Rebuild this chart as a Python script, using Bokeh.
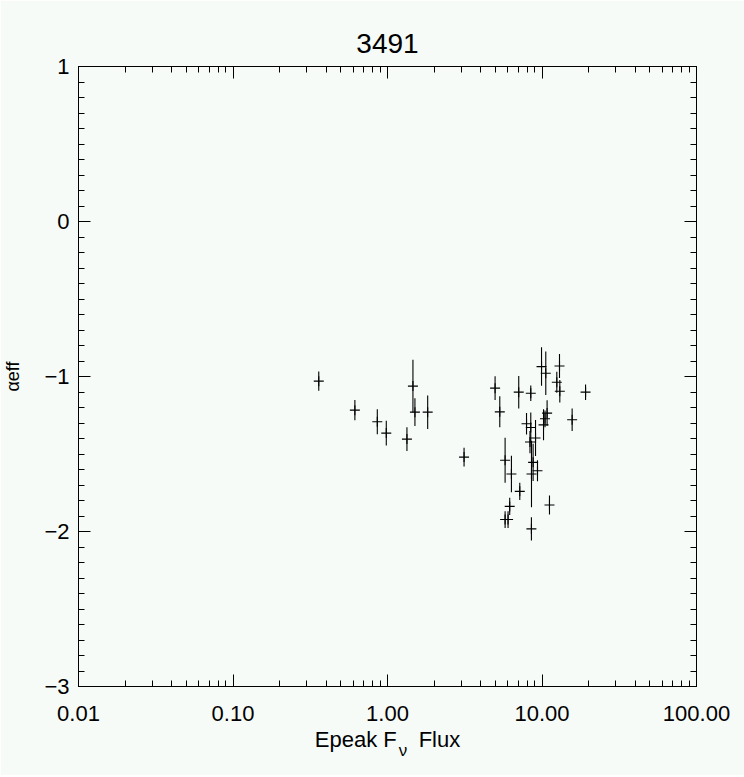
import numpy as np
from bokeh.plotting import figure
from bokeh.models import (Range1d, FixedTicker, LogAxis, LinearAxis,
                          PrintfTickFormatter, ColumnDataSource)
from bokeh.embed import file_html
from bokeh.resources import INLINE

# ---- data ----
epeak_flux = [0.359, 0.615, 0.859, 0.982, 1.336, 1.461, 1.505, 1.82, 3.13,
              4.97, 5.33, 5.77, 5.77, 6.03, 6.18, 6.34, 7.07, 7.18, 7.94,
              8.36, 8.46, 8.46, 8.54, 8.55, 8.76, 9.08, 9.35, 9.93, 10.23,
              10.46, 10.58, 10.79, 11.18, 12.47, 12.98, 13.04, 15.67, 19.14]
alpha_eff = [-1.030, -1.217, -1.292, -1.365, -1.404, -1.062, -1.230, -1.230, -1.520,
             -1.075, -1.228, -1.540, -1.923, -1.923, -1.838, -1.629, -1.101, -1.741, -1.305,
             -1.423, -1.108, -1.329, -1.983, -1.629, -1.554, -1.397, -1.608, -0.936, -1.312,
             -1.273, -0.979, -1.236, -1.829, -1.037, -0.932, -1.095, -1.279, -1.101]
alpha_err = [0.062, 0.066, 0.080, 0.080, 0.076, 0.170, 0.090, 0.108, 0.060,
             0.077, 0.100, 0.145, 0.054, 0.054, 0.055, 0.117, 0.105, 0.056, 0.069,
             0.072, 0.050, 0.097, 0.075, 0.215, 0.120, 0.116, 0.067, 0.124, 0.100,
             0.054, 0.140, 0.082, 0.062, 0.068, 0.077, 0.073, 0.073, 0.050]

title_text = "3491"
x_title = "Epeak F\u2002\u2002Flux"   # gap left for the subscript nu
x_title_sub = "\u03bd"
y_title = "\u03b1eff"
x_tick_values = [0.01, 0.1, 1.0, 10.0, 100.0]
y_tick_values = [-3, -2, -1, 0, 1]
y_tick_labels = ["\u22123", "\u22122", "\u22121", "0", "1"]

FONT = "Liberation Sans"
BG = "#f6fbf8"

x = np.array(epeak_flux)
y = np.array(alpha_eff)
e = np.array(alpha_err)
src = ColumnDataSource(dict(x=x, y=y, lo=y - e, hi=y + e))

p = figure(width=744, height=775, x_axis_type="log",
           x_range=Range1d(0.01, 100), y_range=Range1d(-3, 1),
           output_backend="svg", toolbar_location=None,
           min_border_left=78, min_border_right=48,
           min_border_top=66, min_border_bottom=89)
p.background_fill_color = BG
p.border_fill_color = BG
p.outline_line_color = "black"
p.xgrid.visible = False
p.ygrid.visible = False

p.title.text = title_text
p.title.align = "center"
p.title.text_font = FONT
p.title.text_font_size = "28px"
p.title.text_font_style = "normal"
p.title.text_color = "black"
p.title.standoff = 27

x_minor = [m * d for d in x_tick_values[:-1] for m in range(2, 10)]
y_minor = [round(v, 1) for v in np.arange(-3.0, 1.0001, 0.1)]

xt = FixedTicker(ticks=x_tick_values, minor_ticks=x_minor)
yt = FixedTicker(ticks=y_tick_values, minor_ticks=y_minor)
y_over = {v: s for v, s in zip(y_tick_values, y_tick_labels)}


def style(ax, show_labels):
    ax.axis_line_color = "black"
    ax.axis_line_width = 1
    ax.major_tick_line_color = "black"
    ax.minor_tick_line_color = "black"
    ax.major_tick_in = 12
    ax.major_tick_out = 0
    ax.minor_tick_in = 6
    ax.minor_tick_out = 0
    ax.major_label_text_font = FONT
    ax.major_label_text_font_size = "22px"
    ax.major_label_text_color = "black" if show_labels else None
    ax.axis_label_text_font = FONT
    ax.axis_label_text_font_style = "normal"
    ax.axis_label_text_color = "black"


p.xaxis.ticker = xt
p.xaxis.formatter = PrintfTickFormatter(format="%.2f")
style(p.xaxis[0], True)
p.xaxis.major_label_standoff = 19
p.xaxis.axis_label = x_title
p.xaxis.axis_label_text_font_size = "22px"
p.xaxis.axis_label_standoff = 3

p.yaxis.ticker = yt
p.yaxis.major_label_overrides = y_over
style(p.yaxis[0], True)
p.yaxis.major_label_standoff = 9
p.yaxis.axis_label = y_title
p.yaxis.axis_label_text_font_size = "18px"
p.yaxis.axis_label_standoff = 18

top = LogAxis(ticker=xt)
style(top, False)
top.major_label_text_font_size = "0px"
p.add_layout(top, "above")
right = LinearAxis(ticker=yt)
style(right, False)
right.major_label_text_font_size = "0px"
p.add_layout(right, "right")

# subscript nu of the x title: a label-only axis stacked under the main one
nu_pos = 1.258
sub_ax = LogAxis(ticker=FixedTicker(ticks=[nu_pos], minor_ticks=[]))
sub_ax.major_label_overrides = {nu_pos: x_title_sub}
sub_ax.axis_line_color = None
sub_ax.major_tick_line_color = None
sub_ax.minor_tick_line_color = None
sub_ax.major_tick_in = 0
sub_ax.major_tick_out = 0
sub_ax.minor_tick_in = 0
sub_ax.minor_tick_out = 0
sub_ax.major_label_text_font = FONT
sub_ax.major_label_text_font_size = "17px"
sub_ax.major_label_text_color = "black"
sub_ax.major_label_standoff = -14
p.add_layout(sub_ax, "below")

# error bars and plus symbols
p.segment(x0="x", y0="lo", x1="x", y1="hi", source=src, line_color="black", line_width=1.1)
p.scatter(x="x", y="y", source=src, marker="cross", size=10, line_color="black", line_width=1.1)

open("out.html", "w").write(file_html(p, INLINE))
